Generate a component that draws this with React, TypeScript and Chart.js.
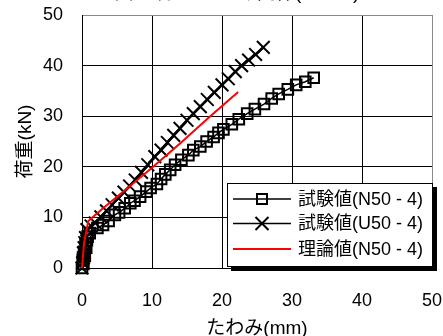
import React, { useEffect, useRef } from "react";
import { Chart, registerables } from "chart.js";

Chart.register(...registerables);

const FONT = '"Liberation Sans", Arial, "Noto Sans CJK JP", sans-serif';

const chartTitle = "図-5 荷重-たわみ関係(N50-4)";
const xAxisTitle = "たわみ(mm)";
const yAxisTitle = "荷重(kN)";
const seriesLabels = ["試験値(N50 - 4)", "試験値(U50 - 4)", "理論値(N50 - 4)"];
const axisMin = 0;
const axisMax = 50;
const tickStep = 10;

// 試験値(N50-4)
const n50X = [0, 0.2, 0.1, 0.4, 0.3, 0.6, 0.5, 0.7, 0.8, 1.1, 2.2, 3.0, 3.8, 4.7, 5.3, 6.1, 6.9, 7.5, 8.3, 9.2, 9.8, 10.7, 11.3, 11.9, 12.6, 13.3, 14.2, 15.2, 15.9, 16.9, 17.8, 18.8, 19.5, 20.2, 21.4, 22.4, 23.6, 24.7, 26.0, 27.1, 28.1, 29.4, 30.6, 31.9, 33.1];
const n50Y = [0, 0.8, 1.6, 2.4, 3.2, 4.0, 4.8, 5.5, 6.2, 6.9, 7.9, 8.5, 9.3, 10.5, 11.0, 11.8, 12.8, 13.3, 14.1, 15.1, 15.8, 16.6, 17.6, 18.5, 19.4, 20.4, 21.4, 22.3, 23.3, 24.0, 25.0, 25.9, 26.7, 27.4, 28.4, 29.4, 30.5, 31.4, 32.4, 33.5, 34.4, 35.3, 36.2, 36.8, 37.6];

// 試験値(U50-4)
const u50X = [0, 0.1, 0.2, 0.2, 0.3, 0.4, 0.5, 0.7, 1.3, 1.9, 2.7, 3.5, 4.3, 5.2, 6.0, 6.8, 7.6, 8.5, 9.4, 10.4, 11.3, 12.2, 13.1, 14.0, 15.0, 15.9, 16.9, 17.9, 18.9, 20.0, 20.9, 21.9, 22.8, 23.8, 24.8, 25.9];
const u50Y = [0, 1.0, 2.0, 3.0, 4.0, 5.0, 6.0, 7.6, 8.3, 8.9, 10.1, 11.3, 12.5, 13.8, 15.0, 16.2, 17.4, 18.9, 20.4, 22.0, 23.3, 24.8, 26.2, 27.6, 29.2, 30.5, 31.9, 33.3, 34.7, 36.2, 37.4, 38.8, 40.0, 41.1, 42.2, 43.6];

// 理論値(N50-4)
const theoryX = [0, 0.3, 0.9, 3, 6, 10, 14, 18, 22.3];
const theoryY = [0, 5, 9.3, 11.8, 15.2, 19.8, 24.6, 29.6, 34.8];

const toPoints = (xs: number[], ys: number[]) => xs.map((x, i) => ({ x, y: ys[i] }));

const drawMarker = (ctx: CanvasRenderingContext2D, style: string, x: number, y: number) => {
  ctx.save();
  ctx.strokeStyle = "#000";
  ctx.lineWidth = 2;
  if (style === "rect") {
    ctx.strokeRect(x - 5, y - 5, 10, 10);
  } else if (style === "crossRot") {
    ctx.beginPath();
    ctx.moveTo(x - 6.5, y - 6.5);
    ctx.lineTo(x + 6.5, y + 6.5);
    ctx.moveTo(x + 6.5, y - 6.5);
    ctx.lineTo(x - 6.5, y + 6.5);
    ctx.stroke();
  }
  ctx.restore();
};

// Title partly above the visible page, as in the reference
const cutTitle = {
  id: "cutTitle",
  afterDraw(chart: any) {
    const { ctx, chartArea } = chart;
    ctx.save();
    ctx.font = `19px ${FONT}`;
    ctx.fillStyle = "#000";
    ctx.textAlign = "center";
    ctx.textBaseline = "alphabetic";
    ctx.fillText(chartTitle, (chartArea.left + chartArea.right) / 2 - 20, -1);
    ctx.restore();
  },
};

const boxLegend = {
  id: "boxLegend",
  afterDraw(chart: any) {
    const { ctx, chartArea } = chart;
    const right = chartArea.right + 1;
    const bottom = chartArea.bottom - 1;
    const left = right - 206;
    const top = bottom - 84;
    const w = right - left;
    const h = bottom - top;
    ctx.save();
    ctx.fillStyle = "#000";
    ctx.fillRect(left + 4, top + 4, w, h);
    ctx.fillStyle = "#fff";
    ctx.fillRect(left, top, w, h);
    ctx.strokeStyle = "#000";
    ctx.lineWidth = 1;
    ctx.strokeRect(left + 0.5, top + 0.5, w - 1, h - 1);
    const rows = [16, 40.5, 66];
    ctx.font = `18px ${FONT}`;
    ctx.textBaseline = "middle";
    ctx.textAlign = "left";
    chart.data.datasets.forEach((ds: any, i: number) => {
      const y = top + rows[i];
      ctx.strokeStyle = ds.borderColor;
      ctx.lineWidth = ds.legendLineWidth || ds.borderWidth;
      ctx.beginPath();
      ctx.moveTo(left + 6, y);
      ctx.lineTo(left + 64, y);
      ctx.stroke();
      if (ds.pointRadius > 0) drawMarker(ctx, ds.pointStyle, left + 35, y);
      ctx.fillStyle = "#000";
      ctx.fillText(ds.label, left + 71, y + 1);
    });
    ctx.restore();
  },
};

export default function App() {
  const canvasRef = useRef<HTMLCanvasElement | null>(null);

  useEffect(() => {
    if (!canvasRef.current) return;
    const gridColor = (c: any) => (c.tick && c.tick.value === axisMax ? "#8a8a8a" : "#000");
    const chart = new Chart(canvasRef.current, {
      type: "scatter",
      data: {
        datasets: [
          {
            label: seriesLabels[0],
            data: toPoints(n50X, n50Y),
            showLine: true,
            borderColor: "#000",
            borderWidth: 1.5,
            legendLineWidth: 1.5,
            pointStyle: "rect",
            pointRadius: 7.5,
            pointBorderWidth: 2,
            pointBorderColor: "#000",
            pointBackgroundColor: "rgba(0,0,0,0)",
            clip: false,
            order: 2,
          } as any,
          {
            label: seriesLabels[1],
            data: toPoints(u50X, u50Y),
            showLine: true,
            borderColor: "#000",
            borderWidth: 2.5,
            legendLineWidth: 1.5,
            pointStyle: "crossRot",
            pointRadius: 9,
            pointBorderWidth: 2,
            pointBorderColor: "#000",
            clip: false,
            order: 1,
          } as any,
          {
            label: seriesLabels[2],
            data: toPoints(theoryX, theoryY),
            showLine: true,
            borderColor: "#ff0000",
            borderWidth: 2,
            pointRadius: 0,
            clip: false,
            order: 0,
          } as any,
        ],
      },
      options: {
        responsive: false,
        animation: false,
        layout: { autoPadding: false, padding: { top: 15, right: 11, left: 0, bottom: 0 } },
        plugins: {
          legend: { display: false },
          tooltip: { enabled: false },
          title: { display: false },
        },
        scales: {
          x: {
            type: "linear",
            min: axisMin,
            max: axisMax,
            ticks: { stepSize: tickStep, color: "#000", padding: 0, font: { family: FONT, size: 18 } },
            grid: { color: gridColor, lineWidth: 1, drawTicks: true, tickLength: 22, tickColor: "rgba(0,0,0,0)" },
            border: { color: "#000", width: 1 },
            title: {
              display: true,
              text: xAxisTitle,
              color: "#000",
              font: { family: FONT, size: 19, lineHeight: 1 },
              padding: { top: 0, bottom: -2 },
            },
            afterFit: (s: any) => {
              s.height = 68;
            },
          },
          y: {
            type: "linear",
            min: axisMin,
            max: axisMax,
            ticks: { stepSize: tickStep, color: "#000", padding: 0, font: { family: FONT, size: 18 } },
            grid: { color: gridColor, lineWidth: 1, drawTicks: true, tickLength: 19, tickColor: "rgba(0,0,0,0)" },
            border: { color: "#000", width: 1 },
            title: {
              display: true,
              text: yAxisTitle,
              color: "#000",
              font: { family: FONT, size: 19, lineHeight: 1 },
              padding: { top: 16, bottom: 0 },
            },
            afterFit: (s: any) => {
              s.width = 82;
            },
          },
        },
      } as any,
      plugins: [cutTitle, boxLegend],
    });
    return () => chart.destroy();
  }, []);

  return (
    <div style={{ position: "fixed", left: 0, top: 0, width: 443, height: 336, background: "#fff" }}>
      <canvas ref={canvasRef} width={443} height={336} style={{ display: "block" }} />
    </div>
  );
}
